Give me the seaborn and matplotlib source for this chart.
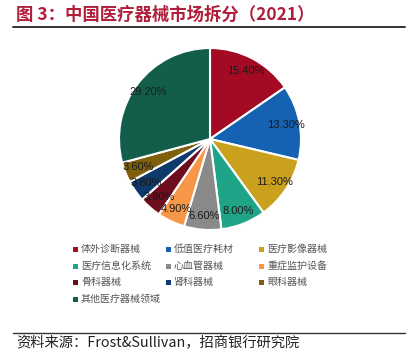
import matplotlib
matplotlib.use("Agg")
import matplotlib.pyplot as plt
from matplotlib.patches import Rectangle
from matplotlib.lines import Line2D
import seaborn as sns

# data
segments = ["体外诊断器械", "低值医疗耗材", "医疗影像器械", "医疗信息化系统", "心血管器械",
            "重症监护设备", "骨科器械", "肾科器械", "眼科器械", "其他医疗器械领域"]
shares = [15.4, 13.3, 11.3, 8.0, 6.6, 4.9, 3.9, 3.8, 3.6, 29.2]
colors = ["#A50A25", "#1562B2", "#C9A11C", "#1FA487", "#8A8A8A",
          "#F79646", "#6D0D1E", "#0E3B6B", "#7D5F0C", "#135E4B"]

title = "图 3：中国医疗器械市场拆分（2021）"
source = "资料来源：Frost&Sullivan，招商银行研究院"

sns.set_theme(style="white")
plt.rcParams["font.family"] = ["Noto Sans CJK SC", "DejaVu Sans"]

W, H = 415, 354
fig = plt.figure(figsize=(W / 100, H / 100), dpi=100)
fig.patch.set_facecolor("white")


def fx(px):
    return px / W


def fy(py):
    return 1 - py / H


# title + rules
fig.text(fx(16), fy(15), title, fontsize=12.5, fontweight="bold", color="#B01E3A",
         va="center", ha="left")
fig.add_artist(Line2D([fx(13), fx(405)], [fy(27), fy(27)], color="#333333", lw=1.4))
fig.add_artist(Line2D([fx(13), fx(405)], [fy(333), fy(333)], color="#333333", lw=1.0))
fig.text(fx(16), fy(343), source, fontsize=10.3, color="#222222", va="center", ha="left")

# pie
cx, cy, r = 210, 139, 91
ax = fig.add_axes([fx(cx - r), fy(cy + r), 2 * r / W, 2 * r / H])
ax.pie(shares, colors=colors, startangle=90, counterclock=False,
       autopct="%.2f%%", pctdistance=0.85,
       wedgeprops=dict(edgecolor="white", linewidth=1.5),
       textprops=dict(fontsize=8, color="#1a1a1a",
                      family=["Liberation Sans", "DejaVu Sans"]))
ax.set_xlim(-1, 1)
ax.set_ylim(-1, 1)
ax.set_aspect("equal")
ax.axis("off")

# legend, row-major in 3 columns
col_x = [75, 168, 261]
row_y = [249, 266, 282.5, 299]
ms = 5
for i, (name, c) in enumerate(zip(segments, colors)):
    row, col = divmod(i, 3)
    x, y = col_x[col], row_y[row]
    fig.add_artist(Rectangle((fx(x - ms / 2), fy(y + ms / 2)), ms / W, ms / H,
                             facecolor=c, edgecolor="none", transform=fig.transFigure))
    fig.text(fx(x + 6), fy(y), name, fontsize=7.2, color="#555555",
             va="center", ha="left")

fig.savefig("out.png", dpi=100, facecolor="white")
